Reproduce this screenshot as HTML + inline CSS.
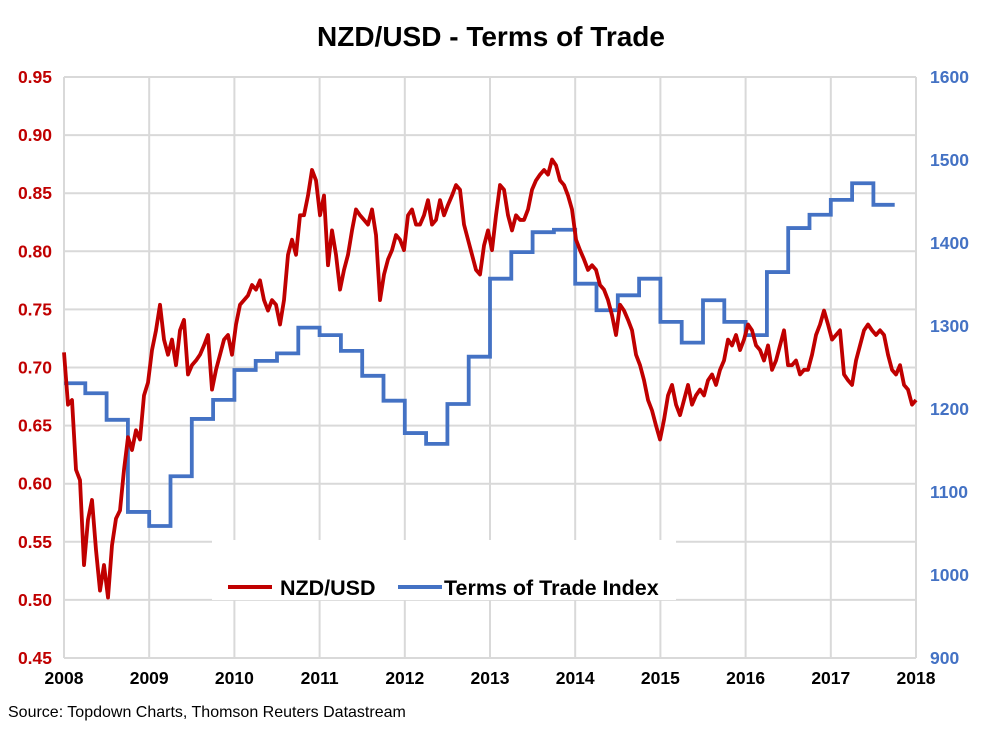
<!DOCTYPE html>
<html><head><meta charset="utf-8">
<style>
body{margin:0;background:#fff;width:1002px;height:744px;overflow:hidden;font-family:"Liberation Sans",Arial,sans-serif}
</style></head>
<body>
<svg id="chart" width="1002" height="744" xmlns="http://www.w3.org/2000/svg">
<text x="491" y="46" text-anchor="middle" font-size="28" font-weight="bold" font-family="Liberation Sans, sans-serif">NZD/USD - Terms of Trade</text>
<text x="8" y="717" font-size="16" font-family="Liberation Sans, sans-serif">Source: Topdown Charts, Thomson Reuters Datastream</text>
<g id="grid"></g><g id="axes"></g><g id="series"></g><g id="legend"></g>
</svg>
<script>
const yearTicks=[2008,2009,2010,2011,2012,2013,2014,2015,2016,2017,2018];
const leftTicks=[0.45,0.50,0.55,0.60,0.65,0.70,0.75,0.80,0.85,0.90,0.95];
const rightTicks=[900,1000,1100,1200,1300,1400,1500,1600];
const totStart=2008.0, totStep=0.25;
const totValues=[1231,1219,1187,1076,1059,1119,1188,1211,1247,1258,1267,1298,1289,1270,1240,1210,1171,1158,1206,1263,1357,1389,1413,1416,1351,1319,1337,1357,1305,1280,1331,1305,1289,1365,1418,1434,1452,1472,1446];
const fxStart=2008.0, fxStep=0.04695;
const fxValues=[0.713,0.668,0.672,0.612,0.603,0.530,0.569,0.586,0.543,0.508,0.530,0.502,0.547,0.570,0.577,0.612,0.640,0.629,0.646,0.638,0.676,0.687,0.715,0.732,0.754,0.724,0.711,0.724,0.702,0.732,0.741,0.694,0.702,0.706,0.711,0.719,0.728,0.681,0.698,0.711,0.724,0.728,0.711,0.737,0.754,0.758,0.762,0.771,0.767,0.775,0.758,0.749,0.758,0.754,0.737,0.758,0.797,0.810,0.797,0.831,0.831,0.848,0.870,0.861,0.831,0.848,0.788,0.818,0.797,0.767,0.784,0.797,0.818,0.836,0.831,0.827,0.823,0.836,0.814,0.758,0.780,0.793,0.801,0.814,0.810,0.801,0.831,0.836,0.823,0.823,0.831,0.844,0.823,0.827,0.844,0.831,0.840,0.848,0.857,0.853,0.823,0.810,0.797,0.784,0.780,0.805,0.818,0.801,0.831,0.857,0.853,0.831,0.818,0.831,0.827,0.827,0.836,0.853,0.861,0.866,0.870,0.866,0.879,0.874,0.861,0.857,0.848,0.836,0.810,0.801,0.793,0.784,0.788,0.784,0.771,0.767,0.758,0.745,0.728,0.754,0.749,0.741,0.732,0.711,0.702,0.689,0.672,0.663,0.650,0.638,0.655,0.676,0.685,0.668,0.659,0.672,0.685,0.668,0.676,0.681,0.676,0.689,0.694,0.685,0.698,0.706,0.724,0.719,0.728,0.715,0.724,0.737,0.732,0.719,0.715,0.706,0.719,0.698,0.706,0.719,0.732,0.702,0.702,0.706,0.694,0.698,0.698,0.711,0.728,0.737,0.749,0.737,0.724,0.728,0.732,0.694,0.689,0.685,0.706,0.719,0.732,0.737,0.732,0.728,0.732,0.728,0.711,0.698,0.694,0.702,0.685,0.681,0.668,0.672];

const L=64,R=916,T=77,B=658;
const xS=v=>L+(v-2008)/10*(R-L);
const yL=v=>B-(v-0.45)/0.5*(B-T);
const yR=v=>B-(v-900)/700*(B-T);
const NS="http://www.w3.org/2000/svg";
function mk(tag,attrs,parent,txt){const e=document.createElementNS(NS,tag);for(const k in attrs)e.setAttribute(k,attrs[k]);if(txt!==undefined)e.textContent=txt;parent.appendChild(e);return e;}
const grid=document.getElementById('grid'),axes=document.getElementById('axes'),series=document.getElementById('series'),legend=document.getElementById('legend');
leftTicks.forEach(v=>{const l=mk('line',{x1:L,x2:R,y1:yL(v),y2:yL(v),stroke:'#d9d9d9','stroke-width':2},grid);


const t=mk('text',{x:52,y:yL(v)+6,'text-anchor':'end','font-size':17.5,'font-weight':'bold',fill:'#c00000','font-family':'Liberation Sans, sans-serif'},axes,v.toFixed(2));

});
yearTicks.forEach(v=>{const l=mk('line',{x1:xS(v),x2:xS(v),y1:T,y2:B,stroke:'#d9d9d9','stroke-width':2},grid);


const t=mk('text',{x:xS(v),y:684,'text-anchor':'middle','font-size':17.5,'font-weight':'bold',fill:'#000','font-family':'Liberation Sans, sans-serif'},axes,String(v));

});
rightTicks.forEach(v=>{const t=mk('text',{x:930,y:yR(v)+6,'font-size':17.5,'font-weight':'bold',fill:'#4472c4','font-family':'Liberation Sans, sans-serif'},axes,String(v));

});
const lb=mk('rect',{x:212,y:540,width:464,height:60,fill:'#fff'},legend);


let d='';totValues.forEach((v,i)=>{const x0=xS(totStart+i*totStep),x1=xS(totStart+(i+1)*totStep),y=yR(v);d+=(i?'L':'M')+x0+','+y+'L'+x1+','+y;});
const tot=mk('path',{d:d,fill:'none',stroke:'#4472c4','stroke-width':3.8},series);


let d2='';fxValues.forEach((v,i)=>{d2+=(i?'L':'M')+xS(fxStart+i*fxStep)+','+yL(v);});
const fx=mk('path',{d:d2,fill:'none',stroke:'#c00000','stroke-width':3.8,'stroke-linejoin':'round'},series);


const l1=mk('line',{x1:228,x2:272,y1:587,y2:587,stroke:'#c00000','stroke-width':4},legend);


const t1=mk('text',{x:280,y:595,'font-size':21.5,'font-weight':'bold','font-family':'Liberation Sans, sans-serif'},legend,'NZD/USD');


const l2=mk('line',{x1:398,x2:442,y1:587,y2:587,stroke:'#4472c4','stroke-width':4},legend);


const t2=mk('text',{x:444,y:595,'font-size':21.5,'font-weight':'bold','font-family':'Liberation Sans, sans-serif'},legend,'Terms of Trade Index');


</script>
</body></html>
